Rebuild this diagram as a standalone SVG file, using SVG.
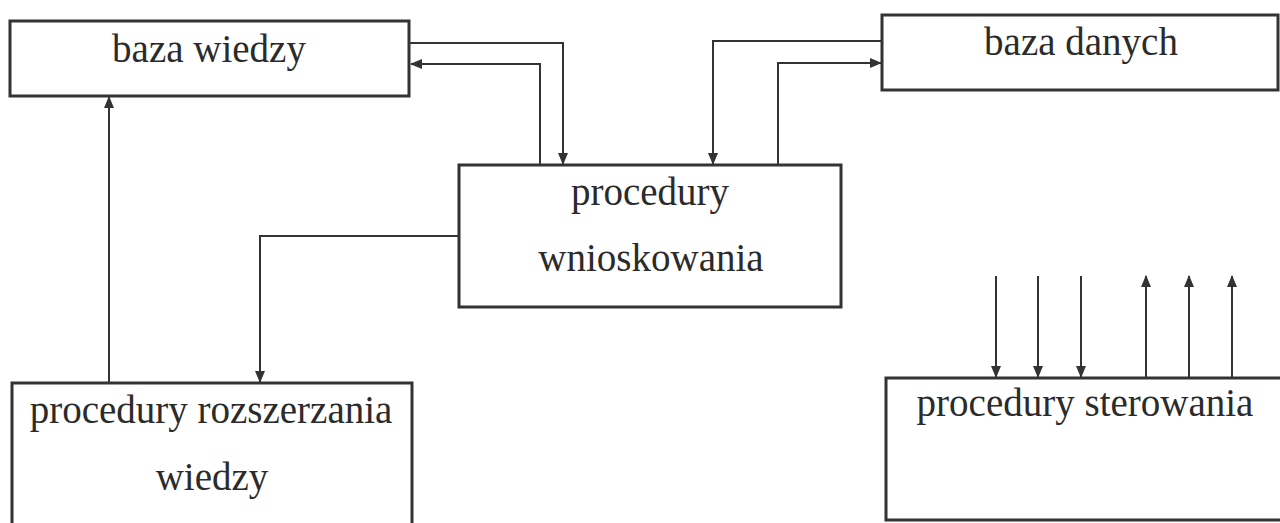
<svg xmlns="http://www.w3.org/2000/svg" width="1280" height="523" viewBox="0 0 1280 523">
<defs>
<style>
.box{fill:#fff;stroke:#333;stroke-width:3}
.lbl{font-family:"Liberation Serif","Times New Roman",serif;font-size:39px;fill:#2b2b2b;text-anchor:middle}
.c{fill:none;stroke:#333;stroke-width:2}
</style>
<marker id="ah" markerUnits="userSpaceOnUse" markerWidth="12" markerHeight="10" refX="11" refY="5" orient="auto">
<path d="M0,0 L12,5 L0,10 Z" fill="#333"/>
</marker>
</defs>
<rect width="1280" height="523" fill="#fff"/>
<g id="baza-wiedzy">
<rect class="box" x="10" y="21" width="399" height="75"/>
<text class="lbl" x="209" y="62">baza wiedzy</text>
</g>
<g id="baza-danych">
<rect class="box" x="882" y="15" width="396" height="75"/>
<text class="lbl" x="1081" y="55">baza danych</text>
</g>
<g id="procedury-wnioskowania">
<rect class="box" x="459" y="165" width="382" height="142"/>
<text class="lbl" x="650" y="205">procedury</text>
<text class="lbl" x="651" y="271">wnioskowania</text>
</g>
<g id="procedury-rozszerzania">
<rect class="box" x="12" y="383" width="400" height="150"/>
<text class="lbl" x="211" y="423">procedury rozszerzania</text>
<text class="lbl" x="212" y="490">wiedzy</text>
</g>
<g id="procedury-sterowania">
<rect class="box" x="886" y="378" width="400" height="142"/>
<text class="lbl" x="1085" y="416">procedury sterowania</text>
</g>
<g id="connectors">
<path class="c" d="M410,43 H563 V164" marker-end="url(#ah)"/>
<path class="c" d="M540,166 V64 H411" marker-end="url(#ah)"/>
<path class="c" d="M881,41 H713 V164" marker-end="url(#ah)"/>
<path class="c" d="M778,166 V63 H881" marker-end="url(#ah)"/>
<path class="c" d="M458,236 H260 V382" marker-end="url(#ah)"/>
<path class="c" d="M109,383 V97" marker-end="url(#ah)"/>
<path class="c" d="M996,276 V377" marker-end="url(#ah)"/>
<path class="c" d="M1038,276 V377" marker-end="url(#ah)"/>
<path class="c" d="M1081,276 V377" marker-end="url(#ah)"/>
<path class="c" d="M1146,378 V276" marker-end="url(#ah)"/>
<path class="c" d="M1189,378 V276" marker-end="url(#ah)"/>
<path class="c" d="M1232,378 V276" marker-end="url(#ah)"/>
</g>
</svg>
